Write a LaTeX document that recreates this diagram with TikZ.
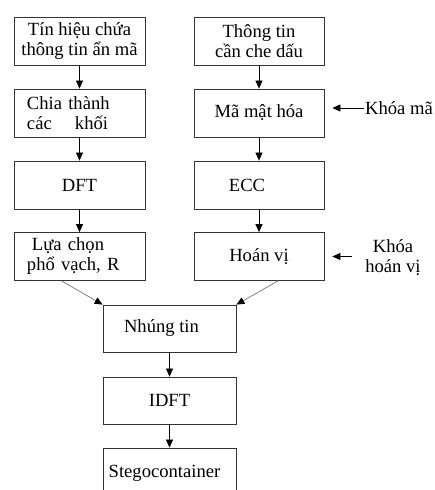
\documentclass[tikz,border=0pt]{standalone}
\usepackage{fontspec}
\setmainfont{Liberation Serif}
\usetikzlibrary{positioning, arrows.meta, calc}

\begin{document}
\begin{tikzpicture}[x=1pt, y=-1pt,
    font=\fontsize{18.6}{20}\selectfont,
    box/.style={draw=black!80, line width=0.8pt, minimum width=131pt, minimum height=48pt, inner sep=0pt, align=center},
    arr/.style={-{Triangle[length=8pt, width=7pt]}, line width=0.7pt},
    garr/.style={-{Triangle[length=8pt, width=7pt, color=black]}, draw=black!50, line width=0.8pt}]
        \useasboundingbox (0,0) rectangle (435,490);

        % Left column
        \node[box] (tin) at (79.5,41) {Tín hiệu chứa\\thông tin ẩn mã};
        \node[box, text width=105pt, align=left, minimum width=131pt] (chia) at (79.5,113) {Chia thành\\các\hspace{17pt} khối};
        \node[box] (dft) at (79.5,185) {DFT};
        \node[box, text width=105pt, align=left] (lc) at (79.5,256.5) {\hspace{5pt}Lựa chọn\\phổ vạch, R};

        % Right column
        \node[box, minimum width=130pt] (tt) at (259,41) {Thông tin\\cần che dấu};
        \node[box, minimum width=130pt] (mmh) at (259,113) {Mã mật hóa};
        \node[box, minimum width=130pt] (ecc) at (259,185) {ECC\hspace*{24pt}};
        \node[box, minimum width=130pt] (hv) at (259,256.5) {Hoán vị};

        % Keys
        \node[inner sep=1pt, anchor=west] (kma) at (364,108) {Khóa mã};
        \node[inner sep=0pt, align=center] (khv) at (393,258) {Khóa\\hoán vị};

        % Bottom column
        \node[box, minimum width=133pt, minimum height=47pt] (nt) at (169.5,328.5) {Nhúng tin\hspace*{16pt}};
        \node[box, minimum width=133pt, minimum height=47pt] (idft) at (169.5,400.5) {IDFT};
        \node[box, minimum width=133pt, minimum height=50pt] (stego) at (169.5,473) {Stegocontainer\hspace*{10pt}};

        % Vertical arrows
        \draw[arr] (tin) -- (chia);
        \draw[arr] (chia) -- (dft);
        \draw[arr] (dft) -- (lc);
        \draw[arr] (tt) -- (mmh);
        \draw[arr] (mmh) -- (ecc);
        \draw[arr] (ecc) -- (hv);
        \draw[arr] (nt) -- (idft);
        \draw[arr] (idft) -- (stego);

        % Key arrows
        \draw[arr, shorten >=8pt] (kma.west) -- (kma.west -| mmh.east);
        \draw[arr, shorten <=13pt, shorten >=8pt] (khv.west |- hv.east) -- (hv.east);

        % Merging arrows
        \draw[garr] ([xshift=-18pt]lc.south) -- (nt.north west);
        \draw[garr] ([xshift=19pt]hv.south) -- (nt.north east);
    \end{tikzpicture}
\end{document}
